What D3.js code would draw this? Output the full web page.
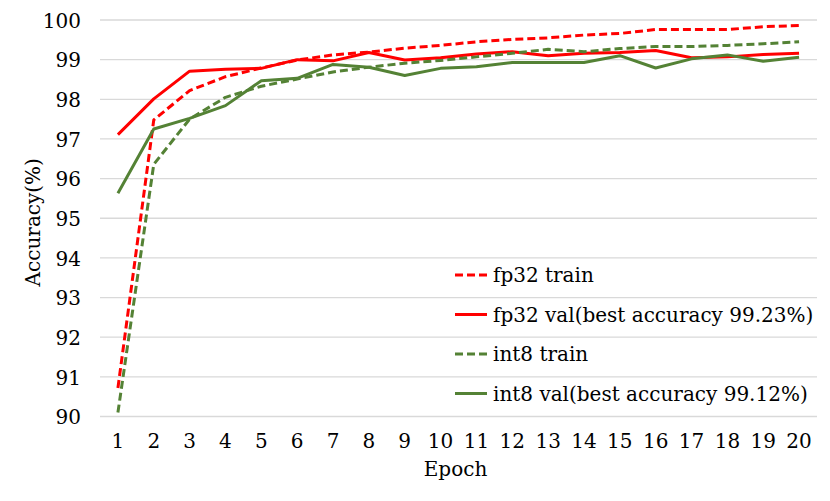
<!DOCTYPE html>
<html>
<head>
<meta charset="utf-8">
<script src="https://cdn.jsdelivr.net/npm/d3@7"></script>
<style>
  body { margin: 0; background: #fff; }
  svg { display: block; }
  svg text { font-family: "DejaVu Serif", serif; fill: #000; }
</style>
</head>
<body>
<svg width="830" height="501"></svg>
<script>
const epochs = d3.range(1, 21);
const yTicks = [90, 91, 92, 93, 94, 95, 96, 97, 98, 99, 100];

const fp32Train = [90.72, 97.48, 98.22, 98.57, 98.79, 98.99, 99.12, 99.19, 99.29, 99.36,
                   99.45, 99.51, 99.55, 99.62, 99.66, 99.76, 99.76, 99.76, 99.83, 99.86];
const fp32Val   = [97.11, 98.01, 98.71, 98.76, 98.78, 99.0, 98.97, 99.18, 98.99, 99.05,
                   99.14, 99.2, 99.1, 99.16, 99.18, 99.23, 99.05, 99.07, 99.13, 99.16];
const int8Train = [90.1, 96.36, 97.5, 98.05, 98.33, 98.51, 98.69, 98.81, 98.91, 98.98,
                   99.07, 99.16, 99.26, 99.2, 99.28, 99.33, 99.33, 99.36, 99.4, 99.45];
const int8Val   = [95.63, 97.25, 97.52, 97.84, 98.47, 98.53, 98.88, 98.81, 98.6, 98.78,
                   98.82, 98.93, 98.93, 98.93, 99.1, 98.79, 99.02, 99.12, 98.96, 99.06];

const series = [
  { name: "fp32 train", values: fp32Train, color: "#ff0000", dash: "8,4" },
  { name: "fp32 val(best accuracy 99.23%)", values: fp32Val, color: "#ff0000", dash: null },
  { name: "int8 train", values: int8Train, color: "#548235", dash: "8,4" },
  { name: "int8 val(best accuracy 99.12%)", values: int8Val, color: "#548235", dash: null }
];

const svg = d3.select("svg");
const plotLeft = 100, plotRight = 817, plotTop = 20, plotBottom = 416.5;
const fontSize = 20;

const x = d3.scaleBand().domain(epochs).range([plotLeft, plotRight]);
const y = d3.scaleLinear().domain([90, 100]).range([plotBottom, plotTop]);

// gridlines
svg.append("g")
  .selectAll("line")
  .data(yTicks)
  .join("line")
  .attr("x1", plotLeft).attr("x2", plotRight)
  .attr("y1", d => y(d)).attr("y2", d => y(d))
  .attr("stroke", "#d9d9d9")
  .attr("stroke-width", 1.3);

// y axis labels
const yAxis = svg.append("g")
  .attr("transform", `translate(${plotLeft - 19},0)`)
  .call(d3.axisLeft(y).tickValues(yTicks).tickSize(0).tickPadding(0));
yAxis.select(".domain").remove();
yAxis.attr("font-family", null);
yAxis.selectAll("text")
  .attr("font-size", fontSize)
  .attr("dy", "0.36em");

// x axis labels
const xAxis = svg.append("g")
  .attr("transform", `translate(0,${plotBottom + 16})`)
  .call(d3.axisBottom(x).tickSize(0).tickPadding(0));
xAxis.select(".domain").remove();
xAxis.attr("font-family", null);
xAxis.selectAll("text")
  .attr("font-size", fontSize)
  .attr("dy", "0.75em");

// axis titles
svg.append("text")
  .attr("x", (plotLeft + plotRight) / 2 - 3)
  .attr("y", 476)
  .attr("text-anchor", "middle")
  .attr("font-size", fontSize)
  .text("Epoch");

svg.append("text")
  .attr("transform", `translate(40,${(plotTop + plotBottom) / 2 + 4}) rotate(-90)`)
  .attr("text-anchor", "middle")
  .attr("font-size", fontSize)
  .text("Accuracy(%)");

// lines
const line = d3.line()
  .x((d, i) => x(epochs[i]) + x.bandwidth() / 2)
  .y(d => y(d));

svg.append("g")
  .selectAll("path")
  .data(series)
  .join("path")
  .attr("d", d => line(d.values))
  .attr("fill", "none")
  .attr("stroke", d => d.color)
  .attr("stroke-width", 3)
  .attr("stroke-dasharray", d => d.dash)
  .attr("stroke-linejoin", "round");

// legend
const legend = svg.append("g")
  .selectAll("g")
  .data(series)
  .join("g")
  .attr("transform", (d, i) => `translate(455,${275 + i * 39.5})`);

legend.append("line")
  .attr("x1", 0).attr("x2", 32)
  .attr("stroke", d => d.color)
  .attr("stroke-width", 3)
  .attr("stroke-dasharray", d => d.dash);

legend.append("text")
  .attr("x", 38)
  .attr("dy", "0.36em")
  .attr("font-size", fontSize)
  .text(d => d.name);
</script>
</body>
</html>
